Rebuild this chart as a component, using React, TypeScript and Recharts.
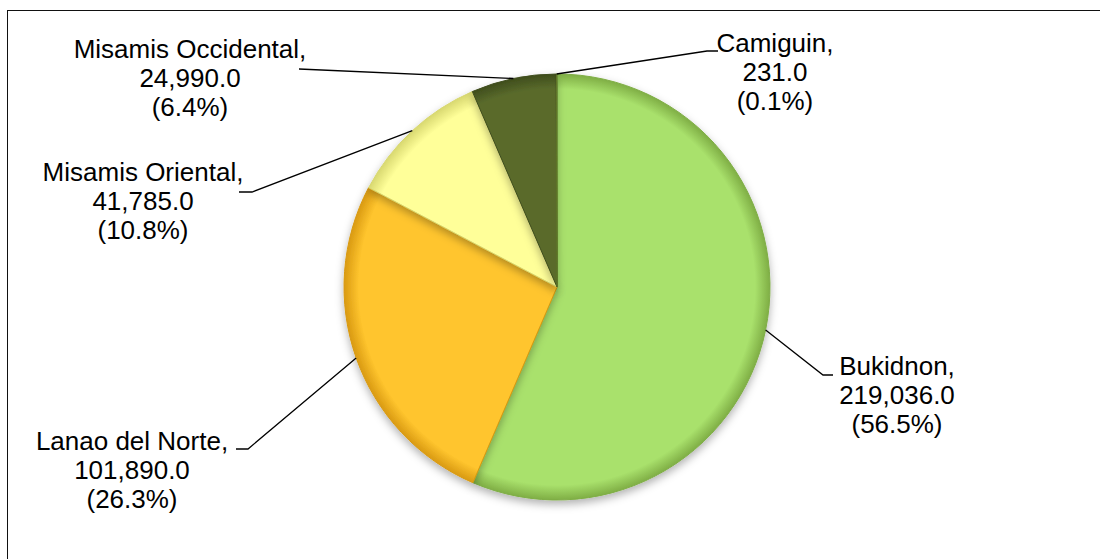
import { PieChart, Pie, Cell } from "recharts";

const provinces = ["Bukidnon", "Lanao del Norte", "Misamis Oriental", "Misamis Occidental", "Camiguin"];
const amounts = [219036, 101890, 41785, 24990, 231];
const colors = ["#a9e16c", "#ffc52e", "#ffff99", "#5a6b2c", "#7f9a3c"];
const rims = ["#7fae45", "#d99a12", "#d8d870", "#3f4d1c", "#5e7428"];

const data = provinces.map((name, i) => ({ name, value: amounts[i] }));
const total = amounts.reduce((a, b) => a + b, 0);

// where each data label sits (elbow of leader, stub end, text centre, first baseline)
const labelSpots = [
  { ex: 823, ey: 375, sx: 833, tx: 897, ty: 375 },
  { ex: 248, ey: 449, sx: 236, tx: 132, ty: 450 },
  { ex: 252, ey: 192, sx: 239, tx: 143, ty: 181 },
  { ex: 299, ey: 69, sx: 299, tx: 190, ty: 58 },
  { ex: 707, ey: 51, sx: 718, tx: 775, ty: 52 },
];

const CX = 557;
const CY = 287;
const R = 213;
const RAD = Math.PI / 180;
const LINE_H = 29;

function renderLabel(props: any) {
  const { cx, cy, midAngle, outerRadius, index, name, value } = props;
  const spot = labelSpots[index];
  const px = cx + outerRadius * Math.cos(-midAngle * RAD);
  const py = cy + outerRadius * Math.sin(-midAngle * RAD);
  const lines = [
    name + ",",
    value.toLocaleString("en-US", { minimumFractionDigits: 1, maximumFractionDigits: 1 }),
    "(" + ((value / total) * 100).toFixed(1) + "%)",
  ];
  return (
    <g key={"lbl" + index}>
      <polyline
        points={`${px},${py} ${spot.ex},${spot.ey} ${spot.sx},${spot.ey}`}
        fill="none"
        stroke="#000"
        strokeWidth={1.3}
      />
      {lines.map((t, i) => (
        <text
          key={i}
          x={spot.tx}
          y={spot.ty + i * LINE_H}
          textAnchor="middle"
          fontSize={26}
          fontFamily="'Liberation Sans', Arial, sans-serif"
          fill="#000"
        >
          {t}
        </text>
      ))}
    </g>
  );
}

export default function App() {
  return (
    <div style={{ position: "relative", width: 1100, height: 559, background: "#fff" }}>
      <style>{`body{margin:0}`}</style>
      <div
        style={{
          position: "absolute",
          left: 7,
          top: 10,
          width: 1200,
          height: 700,
          border: "1.5px solid #111",
          boxSizing: "border-box",
        }}
      />
      <PieChart
        width={1100}
        height={559}
        margin={{ top: 0, right: 0, bottom: 0, left: 0 }}
        style={{ position: "absolute", left: 0, top: 0 }}
      >
        <defs>
          <filter id="shadow" x="-20%" y="-20%" width="140%" height="140%">
            <feDropShadow dx="0" dy="4" stdDeviation="4" floodColor="#000" floodOpacity="0.3" />
          </filter>
          {colors.map((c, i) => (
            <radialGradient key={i} id={"g" + i} cx={CX} cy={CY} r={R} gradientUnits="userSpaceOnUse">
              <stop offset="0%" stopColor={c} />
              <stop offset="93%" stopColor={c} />
              <stop offset="100%" stopColor={rims[i]} />
            </radialGradient>
          ))}
        </defs>
        <Pie
          data={data}
          dataKey="value"
          nameKey="name"
          cx={CX}
          cy={CY}
          outerRadius={R}
          startAngle={90}
          endAngle={-270}
          isAnimationActive={false}
          label={renderLabel}
          labelLine={false}
          style={{ filter: "url(#shadow)" }}
        >
          {data.map((d, i) => (
            <Cell key={d.name} fill={`url(#g${i})`} stroke={rims[i]} strokeWidth={1} />
          ))}
        </Pie>
      </PieChart>
    </div>
  );
}
